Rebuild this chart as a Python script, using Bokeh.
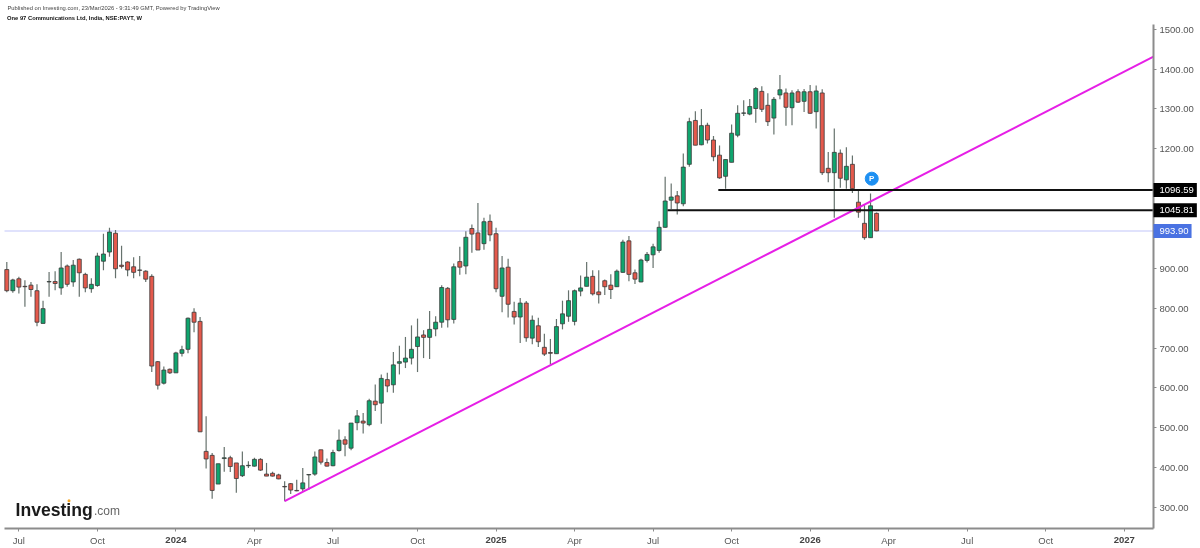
from bokeh.plotting import figure
from bokeh.models import Range1d, ColumnDataSource, FixedTicker, NumeralTickFormatter, Label
from bokeh.core.properties import value
from bokeh.embed import file_html
from bokeh.resources import INLINE

opens = [897,844,874,855,858,844,762,866,867,851,906,866,923,885,849,857,918,941,988,908,916,904,896,893,880,666,612,647,638,687,697,790,767,441,431,359,423,425,412,380,405,404,421,384,386,382,353,360,343,
 347,382,384,445,413,405,443,470,449,513,517,508,567,562,621,608,662,665,675,704,733,727,748,765,850,772,917,906,1000,989,962,1018,987,830,903,792,778,813,725,756,702,
 689,686,761,780,767,843,855,880,841,869,858,854,890,969,889,866,920,934,945,1003,1071,1082,1062,1161,1271,1210,1259,1222,1184,
 1131,1166,1234,1289,1287,1301,1344,1309,1277,1335,1340,1303,1343,1319,1343,1293,1340,1151,1140,1189,1122,1161,1066,1013,977,1038]
highs = [916,874,879,870,866,860,819,891,893,941,910,921,925,889,875,939,987,1002,996,957,918,928,931,895,885,668,654,649,691,706,777,800,778,529,437,410,452,430,412,441,416,425,424,412,390,385,366,362,370,
 399,383,441,445,423,445,496,479,512,545,537,573,609,634,638,690,706,728,757,774,745,793,780,858,853,912,954,993,1010,1064,1027,1035,1002,931,924,816,826,818,782,776,736,
 723,773,819,845,847,882,916,895,895,872,885,897,972,981,897,924,941,962,1018,1130,1113,1094,1188,1278,1294,1300,1265,1232,1208,
 1173,1261,1309,1322,1325,1355,1357,1339,1330,1385,1351,1347,1349,1350,1360,1359,1349,1192,1251,1198,1204,1183,1098,1060,1088,1040]
lows = [840,839,837,804,829,755,762,829,845,834,854,854,829,840,839,854,895,929,875,900,880,875,880,866,640,596,609,635,638,679,687,740,490,398,322,359,390,389,337,377,399,403,392,379,378,371,316,334,341,
 341,345,380,408,403,404,441,429,444,494,486,504,542,510,589,588,634,650,659,640,675,673,730,751,752,762,884,885,939,946,947,968,840,790,777,759,713,716,710,703,680,
 659,686,747,766,757,830,855,832,812,833,823,853,889,868,861,865,915,901,939,1002,1049,1035,1056,1155,1209,1209,1213,1169,1125,
 1100,1166,1229,1282,1284,1265,1292,1257,1236,1324,1258,1259,1315,1292,1288,1251,1134,1116,1027,1102,1100,1089,1027,972,977,993]
closes = [844,871,853,854,847,765,799,867,862,901,860,908,889,851,860,931,936,991,899,905,896,890,895,873,655,607,645,638,688,696,775,765,490,422,343,410,425,403,373,405,406,421,394,379,379,372,352,344,342,
 362,383,427,414,404,438,469,459,512,530,512,568,558,624,605,658,666,675,697,728,727,747,765,852,771,904,903,978,986,946,1017,984,849,901,810,778,813,726,770,716,685,
 687,754,786,819,844,851,878,836,834,854,847,893,966,885,873,921,935,954,1003,1069,1079,1064,1154,1268,1209,1258,1222,1180,1127,
 1173,1239,1289,1290,1306,1351,1299,1268,1324,1348,1304,1340,1317,1343,1289,1345,1140,1140,1191,1126,1156,1100,1041,977,1057,994]

price_ticks = [300,400,500,600,700,800,900,1000,1100,1200,1300,1400,1500]
hidden_price_labels = [1000, 1100]
month_ticks = {3:"Jul",16:"Oct",42:"Apr",55:"Jul",69:"Oct",95:"Apr",108:"Jul",121:"Oct",147:"Apr",160:"Jul",173:"Oct"}
year_ticks = {29:"2024",82:"2025",134:"2026",186:"2027"}
level_high = 1096.59
level_low = 1045.81
last_price = 993.90
trend_weeks = [47, 190.85]
trend_prices = [316, 1431]
level_high_start = 118.8
level_low_start = 110.4
pin_week, pin_price = 144.2, 1125
title_line = "Published on Investing.com, 23/Mar/2026 - 9:31:49 GMT, Powered by TradingView"
symbol_line = "One 97 Communications Ltd, India, NSE:PAYT, W"

FONT = "Liberation Sans"
UP, DOWN = "#0fa56e", "#e4594c"
XL, XR = 0.62, 190.85      # chart area in weeks: axis extents
YB, YT = 247.3, 1511       # chart area in price
X_MIN, X_MAX = -0.043, 198.63
Y_MIN, Y_MAX = 197.4, 1571.9

p = figure(width=1200, height=548, output_backend="svg", toolbar_location=None,
           x_range=Range1d(X_MIN, X_MAX), y_range=Range1d(Y_MIN, Y_MAX),
           y_axis_location="right", min_border_left=0, min_border_right=0,
           min_border_top=0, min_border_bottom=0, background_fill_color="white")
p.styles = {"position": "fixed", "left": "0", "top": "0"}
p.grid.visible = False
p.outline_line_color = None

weeks = list(range(1, len(opens) + 1))
src = ColumnDataSource(dict(
    x=weeks, o=opens, h=highs, l=lows, c=closes,
    top=[max(a, b) for a, b in zip(opens, closes)],
    bot=[min(a, b) for a, b in zip(opens, closes)],
    col=[UP if c >= o else DOWN for o, c in zip(opens, closes)]))

p.line([XL, XR], [last_price, last_price], line_color="#d6d9fb", line_width=1.5)

p.segment("x", "h", "x", "l", source=src, line_color="#66726d", line_width=1.2)
p.vbar("x", 0.66, "top", "bot", source=src, fill_color="col", line_color="#3a3a3a", line_width=0.8)

p.line(trend_weeks, trend_prices, line_color="#e61fe6", line_width=2)
p.line([level_high_start, XR], [level_high, level_high], line_color="#111111", line_width=2)
p.line([level_low_start, XR], [level_low, level_low], line_color="#111111", line_width=2)

p.scatter([pin_week], [pin_price], size=13, marker="circle", fill_color="#1e90f2", line_color="#1e90f2")
p.text([pin_week], [pin_price], text=["P"], text_color="white", text_align="center", text_baseline="middle",
       text_font=value(FONT), text_font_style="bold", text_font_size="8px")

ya = p.yaxis[0]
ya.fixed_location = XR
ya.bounds = (YB, YT)
ya.ticker = FixedTicker(ticks=price_ticks)
ya.formatter = NumeralTickFormatter(format="0.00")
ya.major_label_overrides = {k: " " for k in hidden_price_labels}
ya.axis_line_color = "#8c8c8c"; ya.axis_line_width = 2
ya.major_tick_line_color = "#8c8c8c"; ya.major_tick_out = 3; ya.major_tick_in = 0
ya.minor_tick_line_color = None
ya.major_label_text_color = "#555555"; ya.major_label_text_font = FONT
ya.major_label_text_font_size = "9.5px"; ya.major_label_standoff = 3

xa = p.xaxis[0]
xa.fixed_location = YB
xa.bounds = (XL, XR)
xa.ticker = FixedTicker(ticks=sorted(list(month_ticks) + list(year_ticks)))
overrides = dict(month_ticks)
overrides.update({k: " " for k in year_ticks})
xa.major_label_overrides = overrides
xa.axis_line_color = "#8c8c8c"; xa.axis_line_width = 2
xa.major_tick_line_color = "#8c8c8c"; xa.major_tick_out = 3; xa.major_tick_in = 0
xa.minor_tick_line_color = None
xa.major_label_text_color = "#555555"; xa.major_label_text_font = FONT
xa.major_label_text_font_size = "9.5px"; xa.major_label_standoff = 3

def canvas_label(text, px, py, size, color, style="normal", align="left", **kw):
    p.add_layout(Label(x=px, y=py, x_units="canvas", y_units="canvas", text=text, level="overlay",
                       text_font=FONT, text_font_size=size, text_color=color, text_font_style=style,
                       text_align=align, text_baseline="middle", **kw))

def px_of_week(w):
    return (w - X_MIN) / (X_MAX - X_MIN) * 1200
def py_of_price(v):
    return 548 - (v - Y_MIN) / (Y_MAX - Y_MIN) * 548

for wk, yr in year_ticks.items():
    canvas_label(yr, px_of_week(wk), 539, "9.5px", "#444444", "bold", "center")

for price, bg in ((level_high, "#000000"), (level_low, "#000000"), (last_price, "#4a72e2")):
    canvas_label(f"{price:.2f}", 1153, py_of_price(price), "9.5px", "white", "normal", "left",
                 background_fill_color=bg, padding=(6, 3, 4, 4))

canvas_label(title_line, 7, 7.5, "5.8px", "#444444")
canvas_label(symbol_line, 6.5, 17.5, "5.8px", "#111111", "bold")

canvas_label("Investing", 15, 509, "17.6px", "#1a1a1a", "bold")
canvas_label(".com", 93.5, 510, "12px", "#666666")
p.scatter([11.3], [317], size=3, marker="circle", fill_color="#f5a623", line_color=None)

open("out.html", "w").write(file_html(p, INLINE))
